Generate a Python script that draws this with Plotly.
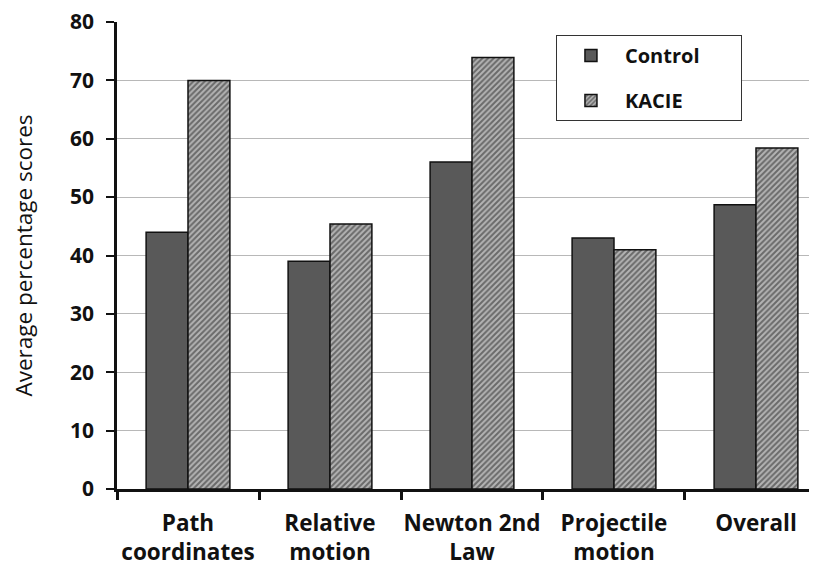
import plotly.graph_objects as go

categories = ["Path<br>coordinates", "Relative<br>motion", "Newton 2nd<br>Law", "Projectile<br>motion", "Overall"]
control = [44.0, 39.0, 56.0, 43.0, 48.7]
kacie = [70.0, 45.4, 73.9, 41.0, 58.4]
y_ticks = [0, 10, 20, 30, 40, 50, 60, 70, 80]

FONT = "Open Sans"
NB = "\u00a0"

fig = go.Figure()
fig.add_trace(go.Bar(
    x=categories, y=control, name="Control" + NB * 7, legendgroup="a",
    marker=dict(color="#595959", line=dict(color="#111111", width=1.5)),
))
fig.add_trace(go.Bar(
    x=categories, y=kacie, name="KACIE", legendgroup="b",
    marker=dict(color="#aaaaaa", line=dict(color="#111111", width=1.5),
                pattern=dict(shape="/", fgcolor="#1f1f1f", bgcolor="#b4b4b4",
                             size=4, solidity=0.5)),
))

fig.update_layout(
    width=817, height=568,
    margin=dict(l=109, r=0, t=14, b=87),
    plot_bgcolor="white", paper_bgcolor="white",
    barmode="group", bargap=0.41, bargroupgap=0,
    font=dict(family=FONT, color="#111111"),
    legend=dict(
        x=0.62, y=0.972, xanchor="left", yanchor="top",
        bordercolor="#333333", borderwidth=1, bgcolor="white",
        font=dict(family=FONT, size=20, color="#111111", weight="bold"),
        traceorder="grouped", tracegroupgap=16,
        itemwidth=58,
    ),
    showlegend=True,
)
fig.update_xaxes(
    type="category", range=[-0.5, 4.486], automargin=False, tickangle=0,
    showline=True, linecolor="#111111", linewidth=2.5,
    ticks="outside", tickson="boundaries", ticklen=8, tickwidth=2.5, tickcolor="#111111",
    tickfont=dict(family=FONT, size=22.5, color="#111111", weight="bold"),
    ticklabelstandoff=12, ticklabeloverflow="allow",
    showgrid=False,
)
fig.update_yaxes(
    range=[0, 80], tickvals=y_ticks, automargin=False,
    showline=True, linecolor="#111111", linewidth=2.5,
    ticks="outside", ticklen=8, tickwidth=2, tickcolor="#111111",
    tickfont=dict(family=FONT, size=21, color="#111111", weight="bold"),
    ticklabelstandoff=8, ticklabeloverflow="allow",
    showgrid=True, gridcolor="#b8b8b8", gridwidth=1,
    zeroline=False,
    title=dict(text="Average percentage scores", font=dict(family=FONT, size=22.5, color="#111111"), standoff=32),
)

fig.write_html("out.html")
